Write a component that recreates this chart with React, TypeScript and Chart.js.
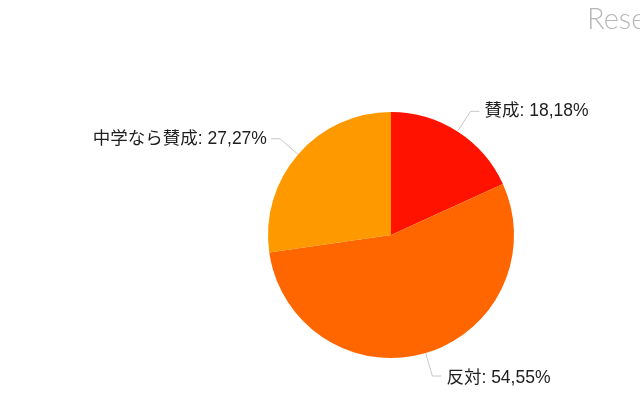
import Chart from 'chart.js/auto'
import { useEffect, useRef } from 'react'

const categories = ['賛成', '反対', '中学なら賛成']
const shares = [18.18, 54.55, 27.27]
const sliceColors = ['#ff1300', '#ff6600', '#ff9900']
const titleText = 'Resemom'

const labelFont = '17.5px "Liberation Sans", "Noto Sans CJK JP", sans-serif'

// leader lines + labels around the pie, plus the cut-off title in the corner
const calloutPlugin = {
  id: 'callouts',
  afterDraw(chart: any) {
    const ctx = chart.ctx
    const meta = chart.getDatasetMeta(0)
    ctx.save()
    meta.data.forEach((arc: any, i: number) => {
      const { x, y, outerRadius, startAngle, endAngle } = arc.getProps(
        ['x', 'y', 'outerRadius', 'startAngle', 'endAngle'],
        true
      )
      const mid = (startAngle + endAngle) / 2
      const cos = Math.cos(mid)
      const sin = Math.sin(mid)
      const right = cos >= 0
      const x1 = x + cos * outerRadius
      const y1 = y + sin * outerRadius
      const x2 = x + cos * (outerRadius + 24)
      const y2 = y + sin * (outerRadius + 24)
      const x3 = x2 + (right ? 9 : -9)
      ctx.strokeStyle = '#c8c8c8'
      ctx.lineWidth = 1
      ctx.beginPath()
      ctx.moveTo(x1, y1)
      ctx.lineTo(x2, y2)
      ctx.lineTo(x3, y2)
      ctx.stroke()
      ctx.font = labelFont
      ctx.fillStyle = '#1e1e1e'
      ctx.textBaseline = 'middle'
      ctx.textAlign = right ? 'left' : 'right'
      const txt = categories[i] + ': ' + shares[i].toFixed(2).replace('.', ',') + '%'
      ctx.fillText(txt, x3 + (right ? 5 : -4), y2 + (sin > 0.5 ? 2 : 0))
    })
    ctx.font = '300 29px Lato, "DejaVu Sans", sans-serif'
    ctx.fillStyle = '#b8b8b8'
    ctx.textAlign = 'left'
    ctx.textBaseline = 'alphabetic'
    ctx.fillText(titleText, 587, 29)
    ctx.restore()
  },
}

const App = () => {
  const canvasRef = useRef<HTMLCanvasElement>(null)
  const chartRef = useRef<Chart | null>(null)

  useEffect(() => {
    if (canvasRef.current) {
      chartRef.current = new Chart(canvasRef.current, {
        type: 'pie',
        data: {
          labels: categories,
          datasets: [
            {
              data: shares,
              backgroundColor: sliceColors,
              borderWidth: 0,
            },
          ],
        },
        options: {
          responsive: false,
          animation: false,
          layout: {
            padding: { left: 268, right: 126, top: 112, bottom: 42 },
          },
          plugins: {
            legend: { display: false },
            tooltip: { enabled: false },
          },
        },
        plugins: [calloutPlugin],
      })
    }
    return () => {
      if (chartRef.current) {
        chartRef.current.destroy()
      }
    }
  }, [])

  return (
    <div style={{ position: 'absolute', left: 0, top: 0, width: 640, height: 400, background: '#fff', overflow: 'hidden' }}>
      <canvas ref={canvasRef} width={640} height={400}></canvas>
    </div>
  )
}

export default App
